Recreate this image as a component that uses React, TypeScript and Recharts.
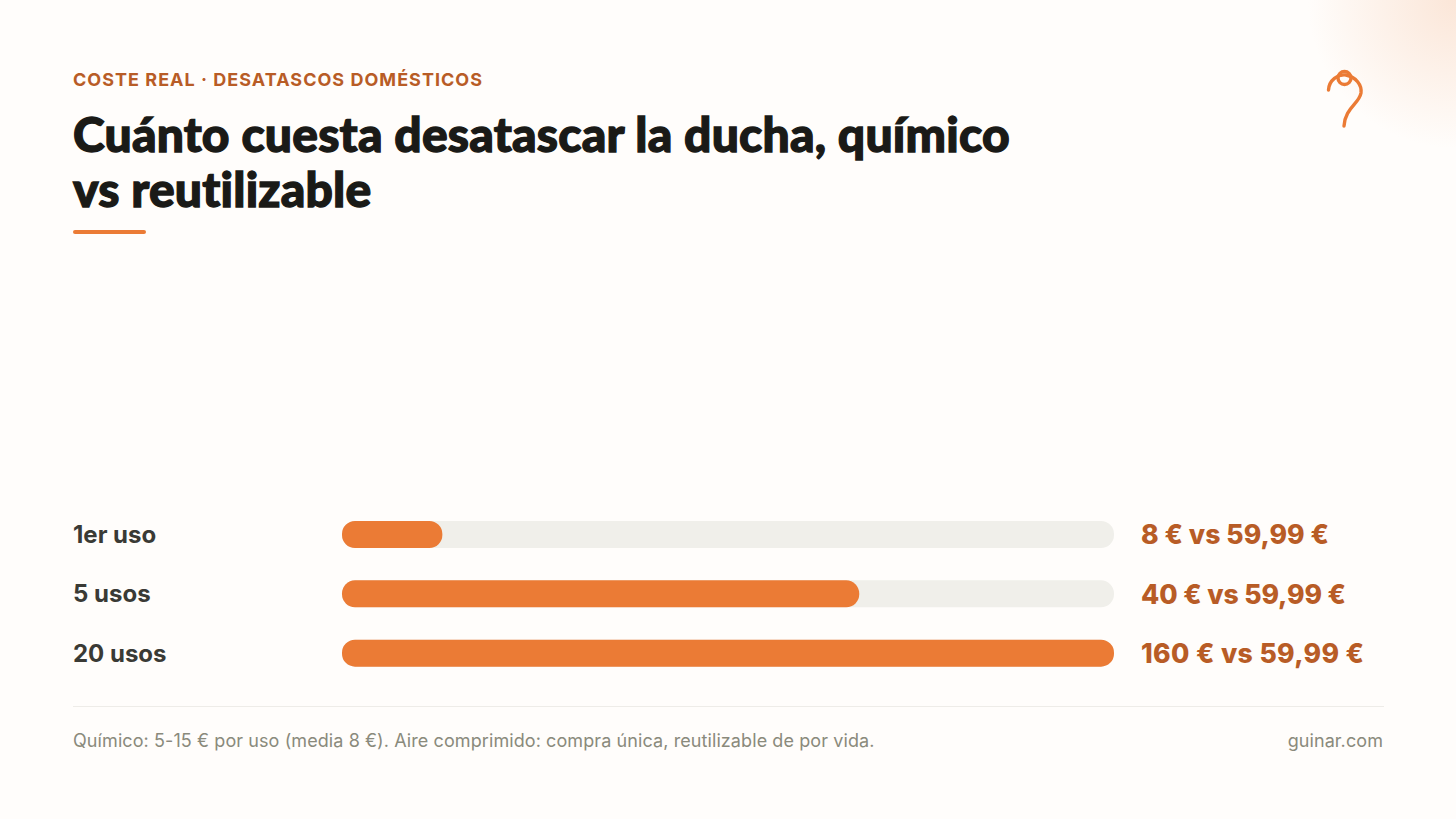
import React from 'react';
import { BarChart, Bar, XAxis, YAxis } from 'recharts';

const categories = ['1er uso', '5 usos', '20 usos'];
const fillPercent = [13, 67, 100];
const costLabels = ['8 € vs 59,99 €', '40 € vs 59,99 €', '160 € vs 59,99 €'];

const rows = categories.map((name, i) => ({ name, share: fillPercent[i], cost: costLabels[i] }));

const INTER = 'Inter, sans-serif';
// the installed Inter sets these a little tighter than the original, so fix the run lengths
const costTextLengths = [188, 205, 223];

const LeftTick = ({ y, payload }: any) => (
  <text x={73} y={y} dy={8.2} textAnchor="start" fontFamily={INTER} fontSize={24} fontWeight={700} fill="#3a3a35">
    {payload.value}
  </text>
);

const RightTick = ({ x, y, index, payload }: any) => (
  <text
    x={x}
    y={y}
    dy={9.6}
    textAnchor="start"
    textLength={costTextLengths[index]}
    lengthAdjust="spacing"
    fontFamily={INTER}
    fontSize={26.6}
    fontWeight={800}
    fill="#b85c26"
  >
    {payload.value}
  </text>
);

const App: React.FC = () => (
  <div style={{ position: 'absolute', left: 0, top: 0, width: 1456, height: 819, background: '#fffdfb', overflow: 'hidden' }}>
    <div style={{ position: 'absolute', right: -150, top: -150, width: 300, height: 300, borderRadius: '50%', background: 'radial-gradient(circle, #fbe6d8 0%, rgba(251,230,216,0) 70%)' }} />

    <div style={{ position: 'absolute', left: 73, top: 69, fontFamily: INTER, fontSize: 18, lineHeight: '22px', fontWeight: 700, letterSpacing: 1.02, color: '#b85c26', whiteSpace: 'nowrap' }}>
      COSTE REAL · DESATASCOS DOMÉSTICOS
    </div>
    <div style={{ position: 'absolute', left: 73, top: 106, fontFamily: 'Lato, sans-serif', fontSize: 48, lineHeight: '55px', fontWeight: 900, letterSpacing: 0.2, fontVariantLigatures: 'none', WebkitTextStroke: '1.3px #1a1a17', color: '#1a1a17', whiteSpace: 'nowrap' }}>
      Cuánto cuesta desatascar la ducha, químico<br />vs reutilizable
    </div>
    <div style={{ position: 'absolute', left: 73, top: 230, width: 73, height: 4, borderRadius: 2, background: '#eb7b35' }} />

    <svg style={{ position: 'absolute', left: 1320, top: 64 }} width={50} height={70} fill="none" stroke="#eb7b35" strokeWidth={3.4} strokeLinecap="round">
      <path d="M8.5 26 C9 16 18 10 26 11 C36 13 42 21 41 29 C39 40 25 44 24 62" />
      <circle cx={24.5} cy={14} r={6.5} />
    </svg>

    <div style={{ position: 'absolute', left: 0, top: 505 }}>
      <BarChart width={1456} height={178} data={rows} layout="vertical" margin={{ top: 0, right: 72, bottom: 0, left: 73 }}>
        <XAxis type="number" domain={[0, 100]} hide />
        <YAxis yAxisId="left" type="category" dataKey="name" width={269} axisLine={false} tickLine={false} tick={<LeftTick />} />
        <YAxis
          yAxisId="right"
          orientation="right"
          type="category"
          dataKey="cost"
          width={270}
          axisLine={false}
          tickLine={false}
          tickMargin={21}
          tick={<RightTick />}
        />
        <Bar
          yAxisId="left"
          dataKey="share"
          barSize={27}
          fill="#eb7b35"
          radius={13}
          background={{ fill: '#f0efea', radius: 13 }}
          isAnimationActive={false}
        />
      </BarChart>
    </div>

    <div style={{ position: 'absolute', left: 73, top: 706, width: 1311, height: 1, background: '#eeece8' }} />
    <div style={{ position: 'absolute', left: 73, top: 730, fontFamily: INTER, fontSize: 18, lineHeight: '22px', letterSpacing: 0.09, color: '#8a8a7c', whiteSpace: 'nowrap' }}>
      Químico: 5-15 € por uso (media 8 €). Aire comprimido: compra única, reutilizable de por vida.
    </div>
    <div style={{ position: 'absolute', right: 73, top: 730, fontFamily: INTER, fontSize: 18, lineHeight: '22px', letterSpacing: 0.09, color: '#8a8a7c', whiteSpace: 'nowrap' }}>
      guinar.com
    </div>
  </div>
);

export default App;
